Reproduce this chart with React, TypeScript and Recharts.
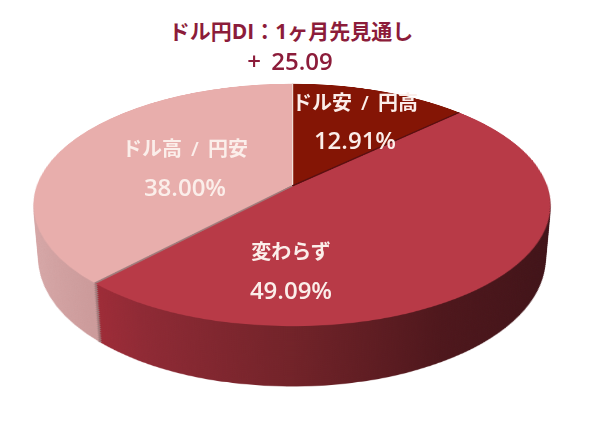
import React from "react";
import { PieChart, Pie, Cell, Sector } from "recharts";

const categories = ["ドル安 / 円高", "変わらず", "ドル高 / 円安"];
const shares = [12.91, 49.09, 38.0];
const percentLabels = ["12.91%", "49.09%", "38.00%"];
const titleLines = ["ドル円DI：1ヶ月先見通し", "+ 25.09"];

const topColors = ["#841505", "#b83a47", "#e8aeac"];
const sideColors = ["#5a1208", "url(#redSide)", "url(#pinkSide)"];
const seamColors = ["#f3e3dc", "#5a0f10", "#a07c7c"];

const SIZE = 520;
const RADIUS = 255.3;
const tilt = "perspective(1450px) rotateX(62.4deg)";
const layerDepths = [
  62, 60, 58, 56, 54, 52, 50, 48, 46, 44, 42, 40, 38, 36, 34, 32, 30, 28, 26, 24, 22, 20, 18, 16, 14, 12, 10, 8, 6, 4,
  2,
];

const labelSpots = [
  { x: 355, y: 103, py: 140 },
  { x: 291, y: 252, py: 290 },
  { x: 185, y: 149, py: 187 },
];

const data = categories.map((name, i) => ({ name, value: shares[i] }));
const font = "'Open Sans', 'Noto Sans CJK JP', sans-serif";

const seamShape = (props: any) => {
  const { cx, cy, outerRadius, startAngle, index } = props;
  const rad = (startAngle * Math.PI) / 180;
  return (
    <g>
      <Sector {...props} />
      <line
        x1={cx}
        y1={cy}
        x2={cx + outerRadius * Math.cos(rad)}
        y2={cy - outerRadius * Math.sin(rad)}
        stroke={seamColors[index]}
        strokeWidth={2.5}
      />
    </g>
  );
};

// side wall: only the outer end of the seam shows on the rim
const rimShape = (props: any) => {
  const { cx, cy, outerRadius, startAngle, index } = props;
  const rad = (startAngle * Math.PI) / 180;
  const inner = outerRadius - 3;
  return (
    <g>
      <Sector {...props} />
      {index === 2 && (
        <line
          x1={cx + inner * Math.cos(rad)}
          y1={cy - inner * Math.sin(rad)}
          x2={cx + outerRadius * Math.cos(rad)}
          y2={cy - outerRadius * Math.sin(rad)}
          stroke={seamColors[index]}
          strokeWidth={3}
        />
      )}
    </g>
  );
};

const Layer = ({ colors, depth, shape }: { colors: string[]; depth: number; shape?: any }) => (
  <div
    style={{
      position: "absolute",
      left: 32,
      top: -74,
      width: SIZE,
      height: SIZE,
      transform: `${tilt} translateZ(${-depth}px)`,
      transformOrigin: "50% 50%",
    }}
  >
    <PieChart width={SIZE} height={SIZE} margin={{ top: 0, right: 0, bottom: 0, left: 0 }}>
      <defs>
        <linearGradient id="redSide" gradientUnits="userSpaceOnUse" x1="0" y1="0" x2={SIZE} y2="0">
          <stop offset="0.12" stopColor="#a62d39" />
          <stop offset="0.25" stopColor="#8f2a35" />
          <stop offset="0.5" stopColor="#722329" />
          <stop offset="0.75" stopColor="#4e171c" />
          <stop offset="1" stopColor="#3f1318" />
        </linearGradient>
        <linearGradient id="pinkSide" gradientUnits="userSpaceOnUse" x1="0" y1="0" x2={SIZE} y2="0">
          <stop offset="0" stopColor="#d8a9a9" />
          <stop offset="0.15" stopColor="#cc9b9b" />
        </linearGradient>
      </defs>
      <Pie
        data={data}
        dataKey="value"
        cx={SIZE / 2}
        cy={SIZE / 2}
        outerRadius={RADIUS}
        startAngle={90}
        endAngle={-270}
        stroke="none"
        isAnimationActive={false}
        shape={shape}
      >
        {data.map((d, i) => (
          <Cell key={d.name} fill={colors[i]} />
        ))}
      </Pie>
    </PieChart>
  </div>
);

const textStyle = (x: number, y: number, size: number, color: string, weight: number): React.CSSProperties => ({
  position: "absolute",
  left: x - 150,
  top: y - 20,
  width: 300,
  height: 40,
  lineHeight: "40px",
  textAlign: "center",
  fontFamily: font,
  fontSize: size,
  fontWeight: weight,
  color,
  wordSpacing: 4,
  whiteSpace: "pre",
});

export default function App() {
  return (
    <div
      style={{
        position: "absolute",
        left: 0,
        top: 0,
        width: 600,
        height: 428,
        overflow: "hidden",
        background: "#fff",
        filter: "blur(0.5px)",
      }}
    >
      {layerDepths.map((depth) => (
        <Layer key={depth} colors={sideColors} depth={depth} shape={rimShape} />
      ))}
      <Layer colors={topColors} depth={0} shape={seamShape} />
      <div style={textStyle(291, 31, 21, "#8c1c3a", 700)}>{titleLines[0]}</div>
      <div style={textStyle(290, 61, 24, "#8c1c3a", 600)}>{titleLines[1]}</div>
      {categories.map((c, i) => (
        <React.Fragment key={c}>
          <div style={textStyle(labelSpots[i].x, labelSpots[i].y, 20, "#fbeeea", 600)}>{c}</div>
          <div style={textStyle(labelSpots[i].x, labelSpots[i].py, 24, "#fbeeea", 600)}>{percentLabels[i]}</div>
        </React.Fragment>
      ))}
    </div>
  );
}
